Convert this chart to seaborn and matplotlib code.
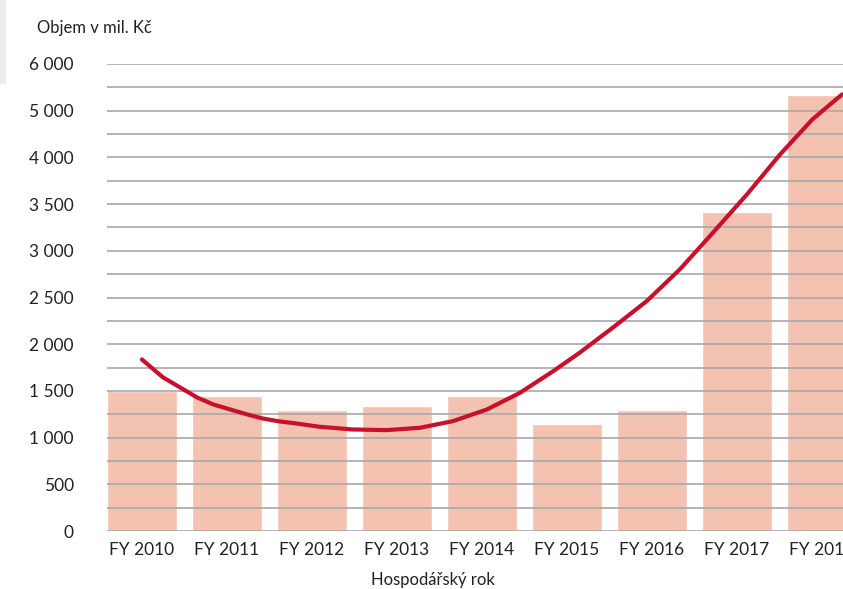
import numpy as np
import pandas as pd
import matplotlib
matplotlib.use("Agg")
import matplotlib.pyplot as plt
import seaborn as sns
from matplotlib.patches import Rectangle

# data
years = ["FY 2010", "FY 2011", "FY 2012", "FY 2013", "FY 2014",
         "FY 2015", "FY 2016", "FY 2017", "FY 2018"]
volume = [1500, 1450, 1300, 1340, 1450, 1150, 1300, 3420, 4670]

# trend curve, read at points along the drawn line (x in category units)
trend_x = [0.00, 0.25, 0.45, 0.65, 0.84, 1.04, 1.24, 1.42, 1.62, 1.82,
           2.09, 2.48, 2.88, 3.27, 3.66, 4.06, 4.45, 4.84, 5.15, 5.54,
           5.94, 6.33, 6.72, 7.12, 7.51, 7.89, 8.24]
trend_y = [1837, 1644, 1537, 1430, 1355, 1301, 1248, 1205, 1173, 1151,
           1116, 1087, 1080, 1105, 1176, 1301, 1480, 1711, 1908, 2176,
           2461, 2801, 3194, 3604, 4032, 4407, 4675]

# y tick labels as printed on the original axis
ytick_pos = [0, 500, 1000, 1500, 2000, 2500, 3000, 3500, 4000, 4500, 5000]
ytick_labels = ["0", "500", "1 000", "1 500", "2 000", "2 500", "3 000",
                "3 500", "4 000", "5 000", "6 000"]

sns.set_theme(style="white")
plt.rcParams["font.family"] = ["Lato", "DejaVu Sans"]

df = pd.DataFrame({"rok": years, "objem": volume})
trend = pd.DataFrame({"x": trend_x, "y": trend_y})

fig = plt.figure(figsize=(8.43, 5.89), dpi=100)
ax = fig.add_axes([107 / 843, 58 / 589, 736 / 843, 467 / 589])

sns.barplot(data=df, x="rok", y="objem", color="#f4c2b1", saturation=1,
            width=0.82, ax=ax, zorder=1)

# grid lines run over the bars, like in the original
for v in np.arange(0, 5001, 250):
    ax.axhline(v, color="#a8a8a8", lw=1.2, zorder=2)

sns.lineplot(data=trend, x="x", y="y", color="#c8102e", lw=3,
             sort=False, ax=ax, zorder=3)

ax.set_xlim(-0.41, 8.25)
ax.set_ylim(0, 5000)
ax.set_yticks(ytick_pos)
ax.set_yticklabels(ytick_labels)
ax.tick_params(axis="y", labelsize=12.5, pad=24, length=0, colors="#222222")
ax.tick_params(axis="x", labelsize=12.5, pad=8, length=0, colors="#222222")
ax.set_xlabel("")
ax.set_ylabel("")
for s in ax.spines.values():
    s.set_visible(False)

fig.text(37 / 843, 1 - 28 / 589, "Objem v mil. Kč", fontsize=12,
         ha="left", va="center", color="#222222")
fig.text(433 / 843, 1 - 580 / 589, "Hospodářský rok", fontsize=12,
         ha="center", va="center", color="#222222")

# light grey strip on the left edge
fig.patches.append(Rectangle((0, 1 - 83 / 589), 5 / 843, 83 / 589,
                             transform=fig.transFigure, color="#ececec",
                             zorder=0))

fig.savefig("out.png", dpi=100)
